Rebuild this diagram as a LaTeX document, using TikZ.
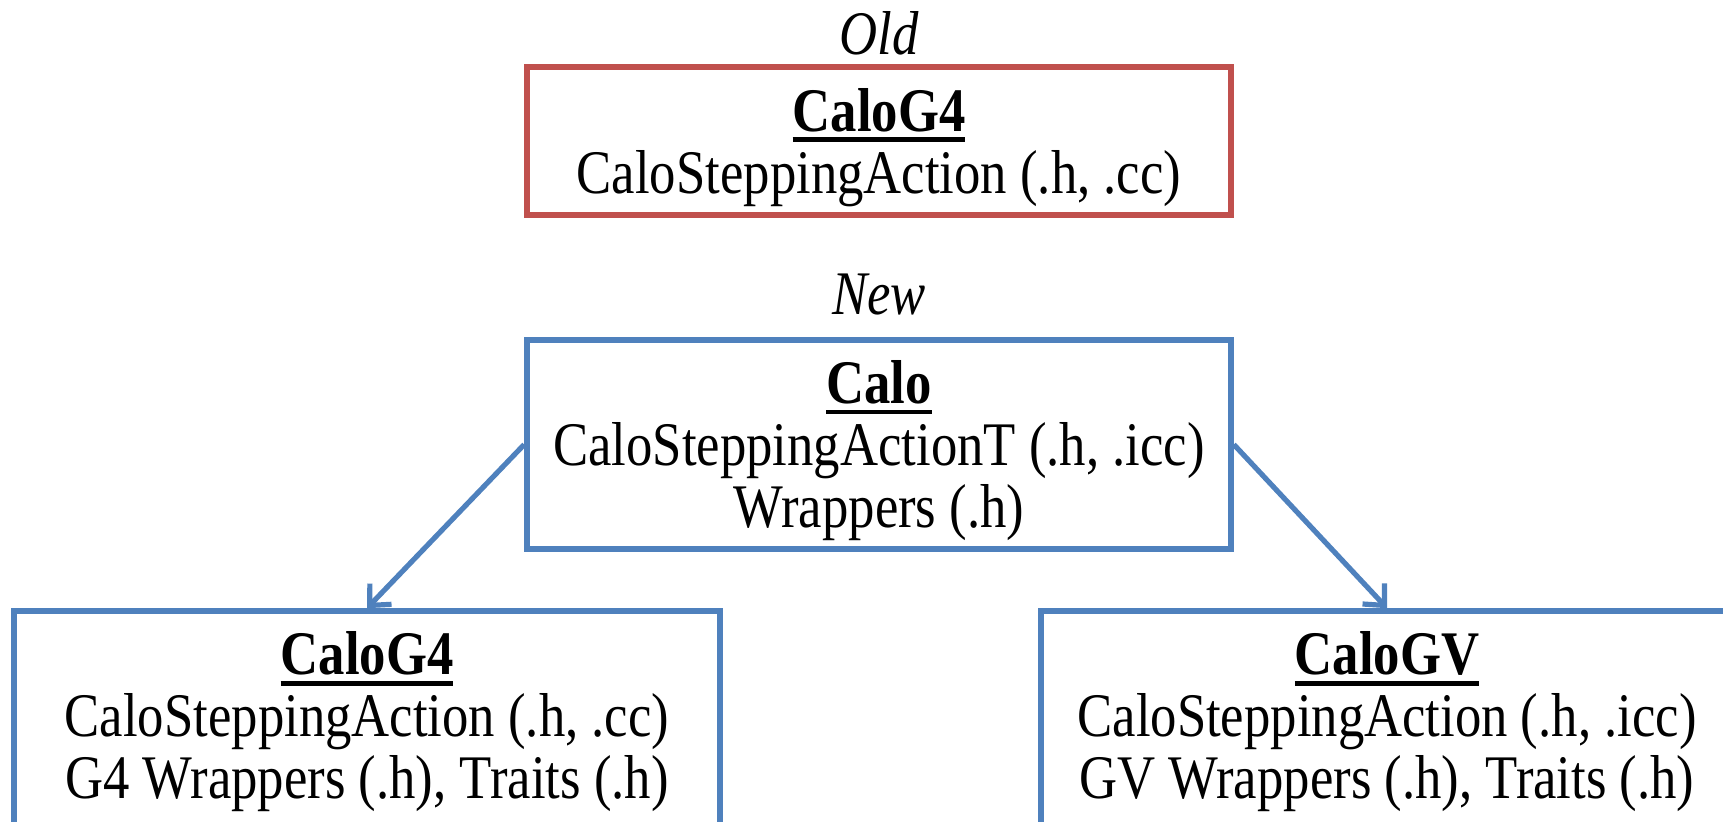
\documentclass[tikz,border=0pt]{standalone}
\usepackage{fontspec}
\setmainfont{Liberation Serif}[FakeStretch=0.85]
\usetikzlibrary{arrows.meta}
\definecolor{oldred}{HTML}{C0504D}
\definecolor{newblue}{HTML}{4F81BD}
\newcommand\myul[1]{\setbox0=\hbox{#1}\rlap{\rule[-5.3pt]{\wd0}{2.4pt}}\box0}
\newcommand\lowstrut{\rule{0pt}{28pt}}
\tikzset{
  box/.style={draw, line width=2.8pt, align=center, inner sep=0pt,
    font=\fontsize{31}{31}\selectfont},
  oldbox/.style={box, draw=oldred},
  newbox/.style={box, draw=newblue},
  lbl/.style={font=\fontsize{31}{31}\selectfont\itshape},
  arr/.style={draw=newblue, line width=2.6pt, -{Straight Barb[length=8pt,width=15pt]}}
}
\begin{document}
\begin{tikzpicture}[x=0.5pt,y=-0.5pt]
\useasboundingbox (0,0) rectangle (1723,822);
\clip (0,0) rectangle (1723,822);
\node[lbl] (oldlbl) at (879,33) {Old};
\node[oldbox, minimum width=352pt, minimum height=74pt] (old) at (879,141)
  {\lowstrut\myul{\textbf{CaloG4}}\\CaloSteppingAction (.h, .cc)};
\node[lbl] (newlbl) at (879,295) {New};
\node[newbox, minimum width=352pt, minimum height=104.5pt] (calo) at (879,444.5)
  {\lowstrut\myul{\textbf{Calo}}\\CaloSteppingActionT (.h, .icc)\\Wrappers (.h)};
\node[newbox, minimum width=353pt, minimum height=111pt] (g4) at (367,722)
  {\myul{\textbf{CaloG4}}\\CaloSteppingAction (.h, .cc)\\G4 Wrappers (.h), Traits (.h)};
\node[newbox, minimum width=346pt, minimum height=111pt] (gv) at (1387,722)
  {\myul{\textbf{CaloGV}}\\CaloSteppingAction (.h, .icc)\\GV Wrappers (.h), Traits (.h)};
\draw[arr] (calo.west) -- (g4.north);
\draw[arr] (calo.east) -- (gv.north);
\end{tikzpicture}
\end{document}
